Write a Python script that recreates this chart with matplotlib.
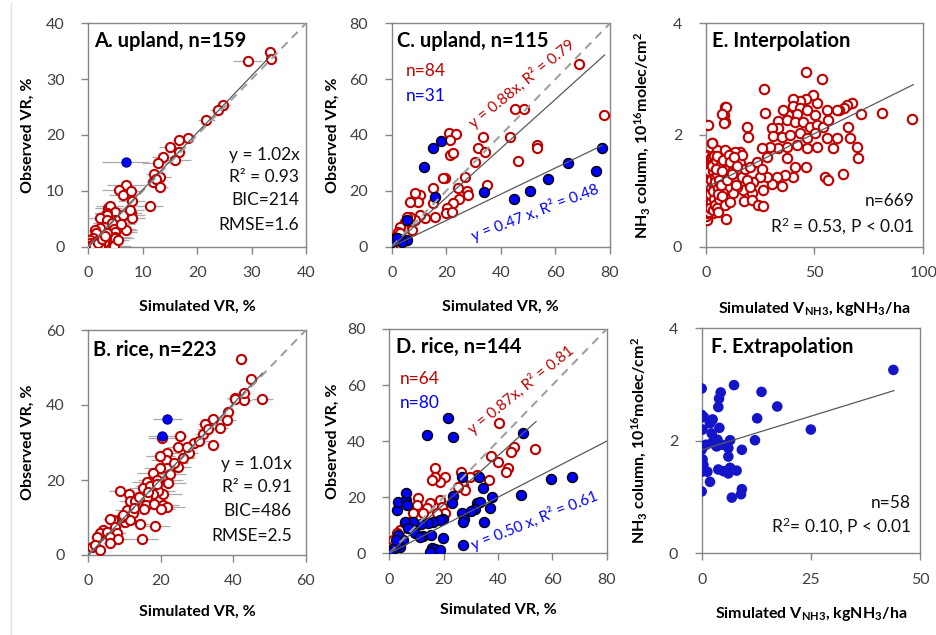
import matplotlib
matplotlib.use("Agg")
import matplotlib.pyplot as plt
from matplotlib.lines import Line2D
import numpy as np

plt.rcParams['font.family'] = ['Lato', 'DejaVu Sans']
plt.rcParams['mathtext.fontset'] = 'custom'
plt.rcParams['mathtext.rm'] = 'Lato'
plt.rcParams['mathtext.bf'] = 'Lato:bold'
plt.rcParams['mathtext.it'] = 'Lato:italic'
plt.rcParams['mathtext.default'] = 'regular'

# ---------------- data ----------------
# Panel A (upland, calibration)
a_sim = [33.3, 33.6, 29.3, 24.8, 23.9, 21.7, 18.3, 16.6, 15.0, 16.7, 15.9, 13.7, 12.8, 12.1, 13.2,
         11.8, 12.4, 13.2, 11.3,
         6.9, 5.6, 6.3, 7.8, 8.0, 7.9, 8.0, 3.7, 4.0, 4.9, 3.5, 3.4, 2.1, 3.4, 4.9, 5.5, 6.4, 7.7,
         4.0, 4.3, 2.8, 2.1, 1.2, 4.8, 6.9, 4.9, 4.9, 2.15, 4.9, 3.4, 1.5, 0.9, 0.3, 3.1, 2.8, 0.3,
         0.0, 0.7, 1.2, 2.15, 2.1, 4.8, 1.6, 0.5, 1.0, 1.8, 2.5, 5.4, 6.0, 3.0]
a_obs = [34.9, 33.6, 33.3, 25.4, 24.5, 22.7, 19.4, 19.1, 17.9, 17.0, 15.6, 16.1, 15.0, 13.1, 12.5,
         11.6, 12.2, 10.6, 7.2,
         11.0, 10.1, 9.3, 9.9, 8.2, 6.0, 5.2, 6.9, 7.2, 6.3, 6.0, 5.7, 5.2, 4.8, 4.8, 4.8, 5.7, 6.6,
         3.6, 4.2, 3.6, 3.3, 3.0, 3.1, 3.0, 2.7, 1.8, 1.8, 1.5, 2.4, 2.4, 1.5, 1.2, 0.9, 0.9, 0.6,
         0.1, 0.3, 0.3, 0.3, 0.0, 0.2, 1.0, 0.0, 0.1, 0.6, 1.3, 1.2, 4.0, 2.0]
a_err = [0.8, 0.5, 2.7, 1.2, 1.5, 1.5, 1.2, 1.0, 2.0, 1.0, 3.0, 2.0, 3.0, 1.5, 2.0,
         1.0, 1.0, 1.5, 2.5,
         3.5, 3.0, 2.5, 2.0, 2.5, 2.0, 2.5, 2.5, 2.5, 3.0, 2.5, 2.0, 2.0, 2.0, 3.0, 3.5, 4.0, 2.5,
         2.0, 3.5, 2.5, 1.5, 1.0, 4.0, 2.0, 4.0, 3.0, 1.5, 3.5, 2.0, 1.0, 1.0, 0.5, 2.0, 1.0, 0.5,
         0.3, 0.5, 1.0, 1.5, 1.0, 3.0, 1.0, 0.5, 0.5, 1.0, 1.5, 2.0, 2.5, 1.5]
a_blue_sim = [6.9]
a_blue_obs = [15.1]
a_blue_err = [4.3]
a_slope = 1.02
a_fit_max = 33.7

# Panel B (rice, calibration)
b_sim = [42.2, 44.9, 40.3, 48.0, 43.0, 40.4, 42.9, 38.6, 38.2, 36.4, 34.3, 34.4, 32.2, 31.5, 29.1,
         20.4, 25.3, 24.7, 27.8, 27.1, 21.8, 21.3, 19.8, 24.8, 21.6, 19.8, 17.9, 18.8, 21.6, 22.0,
         16.1, 20.7, 19.3, 17.9, 15.2, 16.1, 15.8, 18.0, 20.5, 21.6, 20.0, 15.4, 8.7, 11.3, 11.5,
         10.8, 12.2, 10.1, 9.2, 6.9, 6.0, 7.4, 11.6, 14.2, 18.5, 14.7, 4.1, 3.2, 5.1, 7.8, 6.0,
         8.3, 2.3, 6.0, 1.1, 1.8, 3.2, 13.0, 14.0, 17.0, 19.0, 22.5, 23.5, 26.0, 30.5, 33.0, 9.5,
         12.5, 16.5]
b_obs = [52.3, 46.9, 42.0, 41.6, 41.3, 41.5, 43.3, 38.2, 36.0, 33.8, 36.4, 29.3, 34.9, 32.4, 30.0,
         31.1, 31.7, 28.9, 27.1, 28.9, 27.1, 25.3, 26.4, 23.6, 23.1, 23.1, 21.8, 20.0, 20.0, 19.1,
         19.6, 16.4, 17.2, 16.4, 17.8, 15.6, 13.3, 13.6, 13.3, 12.7, 12.2, 12.2, 17.2, 16.4, 14.4,
         12.0, 11.1, 8.9, 10.2, 9.3, 9.5, 7.6, 9.3, 8.4, 7.8, 4.4, 6.7, 5.8, 6.2, 5.8, 4.9,
         4.4, 4.9, 3.1, 2.2, 2.7, 1.3, 14.5, 15.5, 18.5, 19.0, 21.5, 24.5, 26.0, 30.5, 33.5, 10.8,
         12.5, 16.8]
b_err = [1.5, 1.5, 2.0, 3.0, 2.0, 2.0, 2.0, 1.5, 2.5, 2.0, 3.0, 1.5, 2.0, 2.0, 2.0,
         4.0, 2.0, 3.0, 2.5, 2.0, 3.5, 4.0, 4.0, 3.5, 4.0, 4.5, 4.5, 5.0, 4.5, 5.0,
         4.0, 5.0, 4.5, 4.0, 4.0, 3.5, 4.0, 4.0, 4.5, 5.0, 4.0, 3.0, 3.0, 3.0, 3.0,
         3.5, 3.0, 2.5, 3.0, 2.5, 2.0, 2.5, 3.0, 2.5, 4.0, 4.5, 2.0, 2.0, 2.0, 2.5, 2.0,
         2.5, 1.5, 2.0, 1.0, 1.0, 1.0, 3.0, 3.5, 4.0, 4.5, 4.5, 4.0, 3.5, 3.0, 3.0, 2.5,
         3.0, 4.0]
b_blue_sim = [21.8, 20.4]
b_blue_obs = [36.3, 31.8]
b_blue_err = [4.0, 4.0]
b_slope = 1.01
b_fit_max = 48.0

# Panel C (upland, validation)
c_red_sim = [68.7, 77.8, 45.2, 48.5, 43.3, 33.6, 53.1, 53.4, 46.2, 31.7, 34.2, 30.5, 26.9, 21.1,
             23.6, 21.4, 21.4, 22.4, 19.5, 18.7, 34.8, 24.4, 27.7, 28.1, 24.8, 22.6, 15.3, 15.3,
             15.9, 10.4, 8.6, 9.8, 6.7, 20.1, 19.8, 22.0, 12.2, 10.4, 8.6, 6.7, 5.5, 5.0, 7.3, 4.3,
             3.1, 2.4, 1.2, 0.0, 1.8, 3.1]
c_red_obs = [65.4, 47.2, 49.2, 49.2, 39.4, 39.4, 36.4, 35.2, 30.8, 35.2, 34.0, 30.4, 25.1, 40.6,
             40.4, 38.2, 32.8, 33.4, 24.5, 24.5, 22.1, 20.9, 20.1, 18.5, 17.0, 15.8, 20.9, 15.8,
             10.7, 18.5, 19.1, 16.1, 16.1, 13.7, 11.9, 12.5, 10.1, 11.3, 9.6, 10.7, 10.7, 9.0, 6.0, 6.6,
             7.2, 5.4, 3.6, 0.0, 2.4, 4.8]
c_blue_sim = [77.2, 64.7, 74.8, 57.4, 50.7, 44.8, 33.8, 18.0, 15.0, 12.0, 15.9, 5.7, 5.5, 3.1,
              1.0, 0.0, 3.7, 1.8]
c_blue_obs = [35.2, 29.9, 27.1, 24.2, 20.1, 17.0, 19.5, 38.0, 35.2, 28.7, 17.9, 9.6, 2.4, 2.6,
              2.6, 1.6, 1.8, 3.0]
c_red_slope, c_red_max = 0.88, 78.0
c_blue_slope, c_blue_max = 0.47, 77.0

# Panel D (rice, validation)
d_red_sim = [40.5, 53.6, 46.0, 44.6, 43.5, 42.8, 40.1, 37.4, 36.7, 32.1, 29.7, 26.4, 27.2, 27.9,
             25.4, 20.5, 18.6, 16.8, 16.8, 15.6, 15.0, 13.7, 10.7, 10.1, 12.5, 8.8, 18.6, 19.3,
             20.5, 17.4, 7.6, 3.9, 5.8, 1.5, 2.7, 0.2]
d_red_obs = [46.6, 37.1, 38.0, 36.3, 30.3, 28.9, 32.5, 34.7, 26.2, 27.9, 27.3, 29.1, 24.4, 22.6,
             23.8, 27.3, 25.6, 30.3, 27.3, 26.2, 17.8, 16.1, 19.6, 17.2, 14.3, 14.3, 19.0, 16.6,
             14.3, 14.3, 11.3, 8.3, 10.7, 4.8, 7.1, 0.6]
d_blue_sim = [21.7, 23.3, 13.7, 49.3, 67.2, 59.5, 48.3, 26.6, 33.0, 37.7, 34.4, 23.6, 22.9, 32.1,
              33.4, 37.1, 31.5, 29.9, 26.6, 27.5, 27.2, 35.0, 27.0, 19.9, 19.6, 18.6, 16.2, 14.4,
              11.5, 8.8, 5.8, 2.7, 3.3, 6.1, 6.1, 6.6, 8.8, 7.0, 9.4, 12.5, 15.3, 11.3, 5.2, 3.1,
              3.9, 2.7, 1.5, 0.0, 15.6, 16.8, 15.0, 18.6, 2.5]
d_blue_obs = [48.2, 41.6, 42.2, 43.0, 27.1, 26.5, 20.9, 27.3, 27.1, 20.2, 23.2, 20.5, 18.1, 17.8,
              18.4, 16.3, 15.7, 15.2, 14.3, 12.2, 11.3, 11.3, 3.0, 5.4, 12.1, 11.9, 11.3, 10.9,
              10.5, 11.3, 11.3, 15.5, 18.2, 19.0, 21.4, 17.2, 8.3, 8.9, 7.1, 6.2, 6.5, 5.7, 4.8, 6.5,
              2.4, 3.0, 1.4, 0.4, 1.8, 1.4, 0.6, 1.0, 4.8]
d_red_slope, d_red_max = 0.87, 54.0
d_blue_slope, d_blue_max = 0.50, 80.0

# Panel E (interpolation)
e_sim = [46.1, 53.3, 27.0, 95.0, 80.9, 71.4, 67.1, 64.8, 63.7, 61.4, 60.2, 55.9, 51.0, 49.2, 46.1,
         43.3, 40.0, 40.0, 43.3, 46.4, 50.2, 41.8, 38.0, 35.4, 33.4, 37.2, 41.0, 44.9, 47.9, 51.0,
         54.1, 56.4, 33.4, 30.3, 27.3, 18.8, 19.3, 8.9, 8.4, 8.9, 0.9, 3.1, 31.1, 34.9, 38.7, 43.3,
         46.4, 50.2, 55.6, 60.2, 66.3, 65.5, 69.4, 70.1, 63.2, 54.8, 56.1, 58.7, 51.0, 46.4, 41.8,
         37.2, 33.4, 29.6, 25.8, 28.0, 37.2, 41.1, 46.1, 40.3, 36.4, 32.6, 30.3, 34.9, 28.0, 24.9,
         21.9, 26.5, 21.1, 17.3, 17.8, 21.1, 24.2, 26.2, 16.5, 12.7, 9.6, 15.8, 12.7, 9.6, 11.9,
         15.8, 18.1, 20.4, 23.4, 25.8, 18.8, 20.4, 14.2, 12.7, 9.6, 8.1, 9.3, 5.1, 6.6, 3.5, 0.5,
         3.5, 5.8, 6.6, 5.1, 8.9, 13.5, 16.5, 9.2, 7.4, 8.6, 2.8,
         0.0, 0.0, 0.0, 0.0, 0.0, 0.0, 0.0, 0.0, 0.0, 0.0, 0.0, 0.0,
         0.6, 0.8, 1.0, 1.2, 0.5, 0.7, 1.1, 1.4, 0.9, 0.4, 1.3, 0.6,
         1.8, 2.0, 2.3, 2.6, 1.6, 2.2, 2.5, 1.9, 2.8, 2.1, 1.7, 2.4,
         3.0, 3.3, 3.6, 4.0, 3.2, 3.8, 4.2, 3.5, 4.5, 3.9, 3.1, 4.4,
         4.8, 5.2, 5.6, 6.0, 5.0, 5.4, 6.3, 5.8, 6.6, 7.0, 4.7, 5.5,
         7.4, 8.0, 10.5, 11.2, 13.0, 14.5, 7.7, 9.0, 10.0, 12.0, 11.0, 13.8]
e_obs = [3.12, 3.00, 2.82, 2.28, 2.39, 2.37, 2.58, 2.54, 2.48, 2.44, 2.44, 2.45, 2.57, 2.72, 2.64,
         2.60, 2.64, 2.52, 2.48, 2.45, 2.36, 2.37, 2.36, 2.45, 2.25, 2.27, 2.24, 2.24, 2.15, 2.18,
         2.15, 2.27, 2.13, 2.13, 2.40, 2.15, 1.97, 2.50, 2.36, 2.23, 2.18, 1.85, 1.98, 1.97, 2.00, 2.03,
         1.94, 2.03, 1.94, 1.94, 1.94, 2.15, 1.79, 1.58, 1.30, 1.24, 1.19, 1.76, 1.79, 1.76, 1.82,
         1.79, 1.76, 1.79, 1.76, 1.61, 1.58, 1.43, 1.42, 1.25, 1.28, 1.25, 1.13, 1.09, 1.25, 1.25,
         1.16, 1.01, 0.96, 1.01, 0.81, 0.84, 0.75, 0.72, 1.25, 1.37, 1.25, 1.70, 1.67, 1.61, 1.49,
         1.49, 1.40, 1.43, 1.52, 1.40, 1.19, 1.07, 1.07, 0.96, 1.07, 0.96, 0.50, 0.72, 0.84, 0.60, 0.48,
         1.37, 1.55, 1.19, 1.73, 1.73, 1.70, 1.64, 2.50, 2.37, 2.22, 1.85,
         0.55, 0.65, 0.75, 0.85, 0.95, 1.05, 1.15, 1.25, 1.35, 1.45, 1.55, 1.65,
         1.60, 1.40, 1.20, 1.00, 0.80, 0.60, 1.50, 0.70, 1.10, 1.30, 0.90, 1.62,
         1.55, 1.30, 1.05, 0.80, 0.62, 1.45, 1.20, 0.95, 1.62, 0.70, 1.35, 1.58,
         1.60, 1.35, 1.10, 0.85, 0.65, 1.50, 1.25, 1.00, 0.75, 1.62, 1.45, 1.15,
         1.55, 1.30, 1.05, 0.85, 0.70, 1.62, 1.20, 0.95, 1.45, 1.10, 1.40, 0.62,
         1.35, 1.55, 1.65, 1.52, 1.60, 1.45, 0.90, 0.75, 1.20, 1.30, 0.80, 1.10]
e_intercept, e_slope, e_fit_max = 1.06, 0.0193, 95.4

# Panel F (extrapolation)
f_sim = [43.9, 0.0, 7.4, 4.35, 3.97, 3.8, 13.7, 17.3, 12.7, 25.0, 0.0, 0.5, 1.9, 2.5, 0.2, 4.05,
         2.3, 2.9, 3.6, 4.6, 3.4, 6.5, 12.2, 9.2, 6.1, 0.0, 6.1, 0.2, 0.4, 0.0, 1.3, 3.8, 5.0,
         6.1, 6.5, 8.0, 1.9, 0.0, 9.2, 9.0, 6.9, 1.0, 2.3]
f_obs = [3.26, 2.93, 2.99, 2.86, 2.75, 2.60, 2.87, 2.61, 2.40, 2.20, 2.46, 2.42, 2.31, 2.38, 2.20,
         2.23, 2.13, 2.01, 2.02, 1.93, 1.90, 2.01, 2.01, 1.84, 1.87, 1.84, 1.72, 1.67, 1.57, 1.45,
         1.45, 1.49, 1.46, 1.42, 1.52, 1.47, 1.27, 1.10, 1.14, 1.05, 0.99, 1.93, 1.96]
f_intercept, f_slope, f_fit_max = 1.84, 0.0239, 44.0

# ---------------- style ----------------
RED = '#C00000'
BLUE = '#0000FF'
FBLUE = '#1414C8'
SPINE = '#868686'
TICKC = '#404040'
W, H = 937, 635

fig = plt.figure(figsize=(W / 100, H / 100), dpi=100)
fig.add_artist(Line2D([11.5 / W, 11.5 / W], [0, 1 - 3 / H], color='#E3E3E3', lw=1.0))


def make_ax(l, r, t, b):
    return fig.add_axes([l / W, 1 - b / H, (r - l) / W, (b - t) / H])


def style(ax, lim_x, lim_y, xt, yt):
    ax.set_xlim(*lim_x)
    ax.set_ylim(*lim_y)
    ax.set_xticks(xt)
    ax.set_yticks(yt)
    for s in ax.spines.values():
        s.set_color(SPINE)
        s.set_linewidth(1.0)
    ax.tick_params(direction='out', length=5, width=1.0, color=SPINE, labelcolor=TICKC,
                   labelsize=11.5)
    ax.tick_params(axis='y', pad=12)
    ax.tick_params(axis='x', pad=9)


def labels(ax, xl, yl, xly, ylx):
    ax.set_xlabel(xl, fontsize=11.5, fontweight='bold')
    ax.set_ylabel(yl, fontsize=11.5, fontweight='bold')
    ax.xaxis.set_label_coords(0.5, xly)
    ax.yaxis.set_label_coords(ylx, 0.5)


def open_pts(ax, x, y, s=44):
    ax.scatter(x, y, s=s, facecolors='white', edgecolors=RED, linewidths=1.5, zorder=3)


def one2one(ax, m):
    ax.plot([0, m], [0, m], color='#A0A0A0', lw=1.5, ls=(0, (4, 3)), zorder=4)


def fitline(ax, slope, xmax, intercept=0.0):
    xs = np.array([0.0, xmax])
    ax.plot(xs, intercept + slope * xs, color='#595959', lw=0.9, zorder=5)


TITLE_FS = 14.5

# ---- A ----
ax = make_ax(88.3, 306, 23.3, 246.7)
style(ax, (0, 40), (0, 40), [0, 10, 20, 30, 40], [0, 10, 20, 30, 40])
ax.errorbar(a_sim, a_obs, xerr=a_err, fmt='none', ecolor='#ABABAB', elinewidth=0.9, capsize=0, zorder=1)
ax.errorbar(a_blue_sim, a_blue_obs, xerr=a_blue_err, fmt='none', ecolor='#ABABAB', elinewidth=0.9, capsize=0, zorder=1)
open_pts(ax, a_sim, a_obs)
ax.scatter(a_blue_sim, a_blue_obs, s=44, color=BLUE, edgecolors='#00008B', linewidths=0.8, zorder=3.5)
one2one(ax, 40)
fitline(ax, a_slope, a_fit_max)
ax.text(1.1, 36.9, 'A. upland, n=159', fontsize=TITLE_FS, fontweight='bold', va='center', ha='left')
for txt, yy in zip(['y = 1.02x', 'R² = 0.93', 'BIC=214', 'RMSE=1.6'], [16.5, 12.4, 8.3, 3.9]):
    ax.text(38.8, yy, txt, fontsize=12.5, ha='right', va='center', color='#111111')
labels(ax, 'Simulated VR, %', 'Observed VR, %', -0.237, -0.245)

# ---- B ----
ax = make_ax(88.3, 306, 330, 555)
style(ax, (0, 60), (0, 60), [0, 20, 40, 60], [0, 20, 40, 60])
ax.errorbar(b_sim, b_obs, xerr=b_err, fmt='none', ecolor='#ABABAB', elinewidth=0.9, capsize=0, zorder=1)
ax.errorbar(b_blue_sim, b_blue_obs, xerr=b_blue_err, fmt='none', ecolor='#ABABAB', elinewidth=0.9, capsize=0, zorder=1)
open_pts(ax, b_sim, b_obs)
ax.scatter(b_blue_sim, b_blue_obs, s=44, color=BLUE, edgecolors='#00008B', linewidths=0.8, zorder=3.5)
one2one(ax, 60)
fitline(ax, b_slope, b_fit_max)
ax.text(1.4, 54.7, 'B. rice, n=223', fontsize=TITLE_FS, fontweight='bold', va='center', ha='left')
for txt, yy in zip(['y = 1.01x', 'R² = 0.91', 'BIC=486', 'RMSE=2.5'], [24.4, 18.2, 11.6, 5.1]):
    ax.text(56.1, yy, txt, fontsize=12.5, ha='right', va='center', color='#111111')
labels(ax, 'Simulated VR, %', 'Observed VR, %', -0.222, -0.245)

# ---- C ----
ax = make_ax(391.7, 610, 23.3, 246.7)
style(ax, (0, 80), (0, 80), [0, 20, 40, 60, 80], [0, 20, 40, 60, 80])
open_pts(ax, c_red_sim, c_red_obs)
ax.scatter(c_blue_sim, c_blue_obs, s=52, color=BLUE, edgecolors='black', linewidths=1.0, zorder=3.5)
one2one(ax, 80)
fitline(ax, c_red_slope, c_red_max)
fitline(ax, c_blue_slope, c_blue_max)
ax.text(1.8, 73.8, 'C. upland, n=115', fontsize=TITLE_FS, fontweight='bold', va='center', ha='left')
ax.text(5.2, 63.0, 'n=84', color=RED, fontsize=12.5, va='center', ha='left')
ax.text(5.2, 54.1, 'n=31', color=BLUE, fontsize=12.5, va='center', ha='left')
ax.text(47.6, 58.5, 'y = 0.88x, R² = 0.79', color=RED, fontsize=11, rotation=39,
        rotation_mode='anchor', ha='center', va='center')
ax.text(52.7, 12.2, 'y = 0.47 x, R² = 0.48', color=BLUE, fontsize=11, rotation=21,
        rotation_mode='anchor', ha='center', va='center')
labels(ax, 'Simulated VR, %', 'Observed VR, %', -0.237, -0.237)

# ---- D ----
ax = make_ax(389.3, 606.7, 329, 553.3)
style(ax, (0, 80), (0, 80), [0, 20, 40, 60, 80], [0, 20, 40, 60, 80])
open_pts(ax, d_red_sim, d_red_obs)
ax.scatter(d_blue_sim, d_blue_obs, s=52, color=BLUE, edgecolors='black', linewidths=1.0, zorder=3.5)
one2one(ax, 80)
fitline(ax, d_red_slope, d_red_max)
fitline(ax, d_blue_slope, d_blue_max)
ax.text(2.5, 73.7, 'D. rice, n=144', fontsize=TITLE_FS, fontweight='bold', va='center', ha='left')
ax.text(3.7, 62.0, 'n=64', color=RED, fontsize=12.5, va='center', ha='left')
ax.text(3.7, 53.5, 'n=80', color=BLUE, fontsize=12.5, va='center', ha='left')
ax.text(48.3, 58.5, 'y = 0.87x, R² = 0.81', color=RED, fontsize=11, rotation=39,
        rotation_mode='anchor', ha='center', va='center')
ax.text(53.6, 11.9, 'y = 0.50 x, R² = 0.61', color=BLUE, fontsize=11, rotation=22,
        rotation_mode='anchor', ha='center', va='center')
labels(ax, 'Simulated VR, %', 'Observed VR, %', -0.222, -0.227)

# ---- E ----
ylab_nh3 = r'NH$_\mathbf{3}$ column, 10$^\mathbf{16}$molec/cm$^\mathbf{2}$'
xlab_nh3 = r'Simulated V$_\mathbf{NH3}$, kgNH$_\mathbf{3}$/ha'
ax = make_ax(705.7, 923.3, 23.3, 246.7)
style(ax, (0, 100), (0, 4), [0, 50, 100], [0, 2, 4])
open_pts(ax, e_sim, e_obs, s=46)
fitline(ax, e_slope, e_fit_max, e_intercept)
ax.text(3.1, 3.69, 'E. Interpolation', fontsize=TITLE_FS, fontweight='bold', va='center', ha='left')
ax.text(95.9, 0.81, 'n=669', fontsize=12.5, ha='right', va='center', color='#111111')
ax.text(95.9, 0.36, 'R$^2$ = 0.53, P < 0.01', fontsize=12.5, ha='right', va='center', color='#111111')
labels(ax, xlab_nh3, ylab_nh3, -0.237, -0.247)

# ---- F ----
ax = make_ax(701.7, 920, 328.3, 553.3)
style(ax, (0, 50), (0, 4), [0, 25, 50], [0, 2, 4])
ax.scatter(f_sim, f_obs, s=58, color=FBLUE, edgecolors='none', zorder=3)
fitline(ax, f_slope, f_fit_max, f_intercept)
ax.text(2.1, 3.67, 'F. Extrapolation', fontsize=TITLE_FS, fontweight='bold', va='center', ha='left')
ax.text(47.9, 0.89, 'n=58', fontsize=12.5, ha='right', va='center', color='#111111')
ax.text(47.9, 0.47, 'R$^2$= 0.10, P < 0.01', fontsize=12.5, ha='right', va='center', color='#111111')
labels(ax, xlab_nh3, ylab_nh3, -0.23, -0.241)

fig.savefig('out.png', dpi=100, facecolor='white')
